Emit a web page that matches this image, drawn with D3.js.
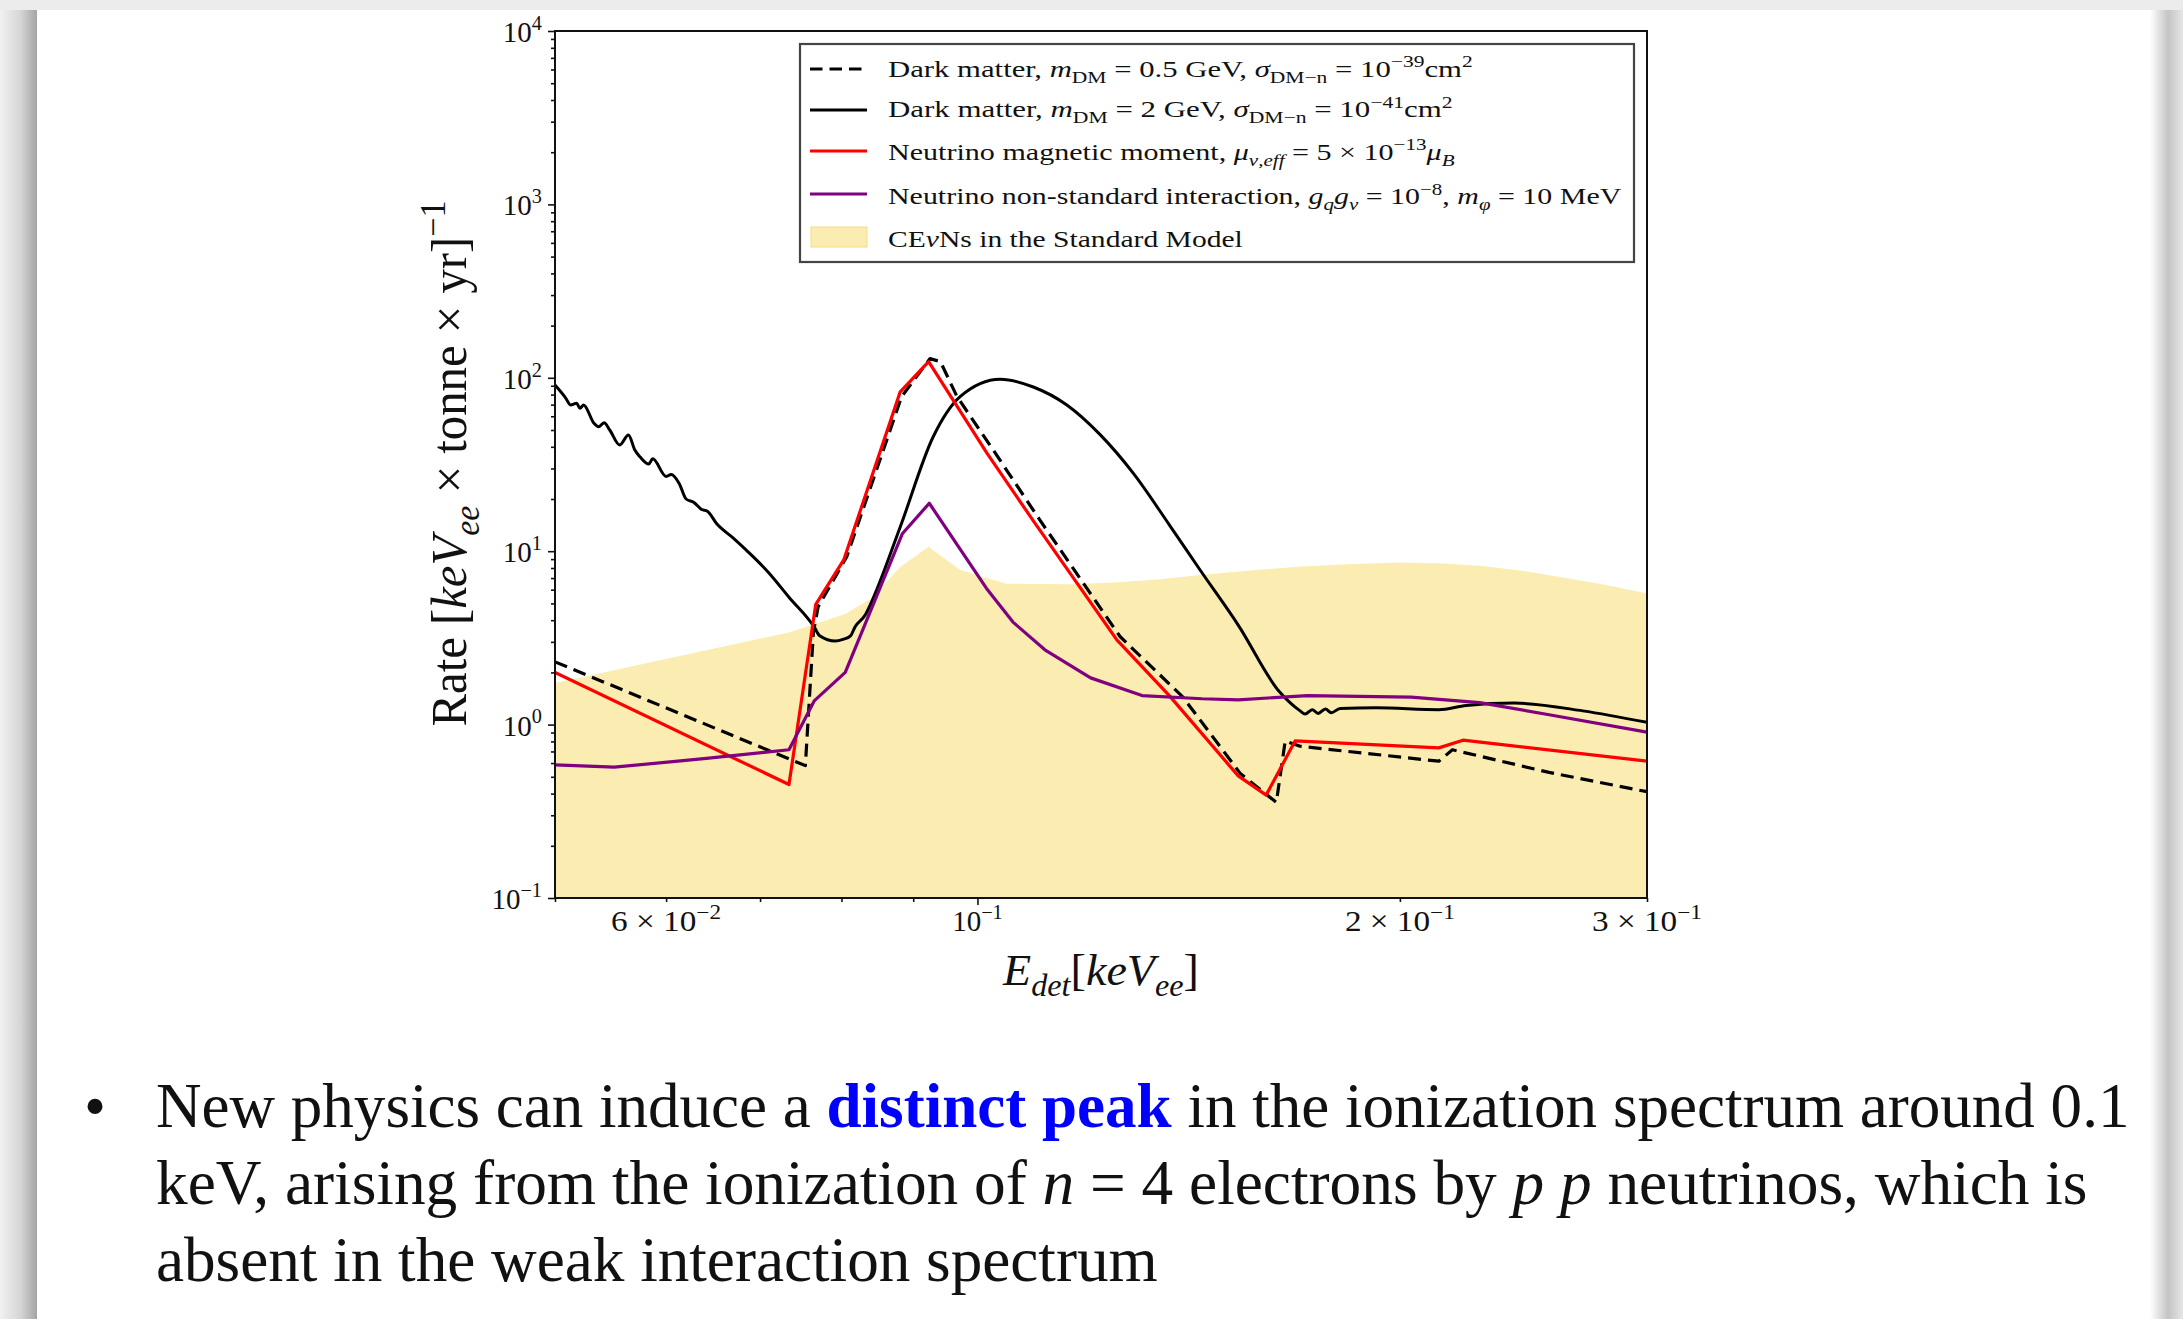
<!DOCTYPE html>
<html>
<head>
<meta charset="utf-8">
<script src="https://cdn.jsdelivr.net/npm/d3@7"></script>
<style>
  body { margin: 0; background: #fff; }
  svg { display: block; }
  text { font-family: "Liberation Serif", "DejaVu Serif", serif; white-space: pre; fill: #111; }
</style>
</head>
<body>
<svg id="chart" width="2183" height="1319"></svg>
<script>
// ---- spectra: detected energy [keV_ee] and rate [(keV_ee x tonne x yr)^-1] ----

// CEvNS in the Standard Model (filled band)
const smE    = [0.05, 0.0734, 0.0805, 0.0839, 0.0881, 0.0923, 0.0972, 0.1049, 0.1158, 0.1250, 0.1350, 0.1441, 0.1550, 0.1700, 0.1850, 0.2000, 0.2150, 0.2300, 0.2450, 0.2600, 0.2800, 0.3];
const smRate = [1.74, 3.40,   4.35,   5.30,   8.10,   10.6,   7.80,   6.50,   6.45,   6.60,   6.90,   7.30,   7.70,   8.15,   8.45,   8.60,   8.50,   8.20,   7.70,   7.10,   6.40,   5.70];

// Dark matter, m_DM = 0.5 GeV (dashed)
const dm05E    = [0.05, 0.0754, 0.0764, 0.0770, 0.0807, 0.0883, 0.0925, 0.0941, 0.0967, 0.1027, 0.1108, 0.1264, 0.1400, 0.1540, 0.1633, 0.1657, 0.1698, 0.2132, 0.2180, 0.2555, 0.3];
const dm05Rate = [2.30, 0.58,   3.41,   4.78,   9.3,    77.8,   129,    124,    78,     38,     15.1,   3.21,   1.45,   0.52,   0.356,  0.805,  0.75,   0.615,  0.716,  0.53,   0.41];

// Dark matter, m_DM = 2 GeV (solid black)
const dm2E    = [0.0500, 0.0509, 0.0513, 0.0518, 0.0521, 0.0524, 0.0533, 0.0537, 0.0542, 0.0547, 0.0556, 0.0564, 0.0570, 0.0575, 0.0583, 0.0587, 0.0600, 0.0605, 0.0613, 0.0620, 0.0628, 0.0636, 0.0642, 0.0652, 0.0669, 0.0686, 0.0710, 0.0734, 0.0765, 0.0772, 0.0792, 0.0802, 0.0812, 0.0818, 0.0832, 0.0839, 0.0881, 0.0930, 0.0972, 0.1038, 0.1096, 0.1158, 0.1223, 0.1292, 0.1370, 0.1441, 0.1534, 0.1642, 0.1698, 0.1712, 0.1732, 0.1749, 0.1770, 0.1787, 0.1813, 0.1924, 0.2132, 0.2230, 0.2413, 0.2700, 0.3];
const dm2Rate = [90.8,   76.2,   69.7,   71.3,   66.7,   69.7,   54.7,   52.2,   55.1,   50.0,   41.0,   46.8,   38.3,   34.9,   31.8,   34.1,   27.0,   27.7,   24.6,   20.0,   19.1,   17.4,   17.0,   14.4,   12.0,   9.95,   7.52,   5.43,   3.66,   3.25,   3.03,   3.10,   3.25,   3.66,   4.30,   4.94,   13.8,   45.7,   77.8,   98.0,   88.5,   69.7,   47.0,   28.0,   14.2,   7.79,   3.75,   1.54,   1.20,   1.15,   1.22,   1.16,   1.23,   1.17,   1.24,   1.25,   1.22,   1.29,   1.33,   1.20,   1.03];

// Neutrino magnetic moment (red)
const mmE    = [0.05, 0.0734, 0.0767, 0.0803, 0.0881, 0.0923, 0.1016, 0.1097, 0.1257, 0.1370, 0.1534, 0.1606, 0.1684, 0.2132, 0.2218, 0.3];
const mmRate = [2.00, 0.451,  4.94,   8.9,    83,     124,    36.7,   14.8,   3.08,   1.47,   0.506,  0.392,  0.805,  0.734,  0.813,  0.615];

// Neutrino non-standard interaction (purple)
const nsiE    = [0.05,  0.0551, 0.0641, 0.0734, 0.0765, 0.0805, 0.0884, 0.0924, 0.1015, 0.1060, 0.1117, 0.1204, 0.1310, 0.1446, 0.1534, 0.1718, 0.2037, 0.2280, 0.2555, 0.3];
const nsiRate = [0.586, 0.568,  0.638,  0.716,  1.37,   2.00,   12.6,   18.9,   6.1,    3.9,    2.7,    1.86,   1.47,   1.41,   1.39,   1.47,   1.44,   1.34,   1.14,   0.904];

// axis ticks
const yTickExps   = [-1, 0, 1, 2, 3, 4];
const xTickValues = [0.06, 0.1, 0.2, 0.3];
const xTickMant   = ["6", "", "2", "3"];
const xTickExps   = ["\u22122", "\u22121", "\u22121", "\u22121"];

// ---------------------------------------------------------------
const W = 2183, H = 1319;
const svg = d3.select("#chart");
const M = { left: 555, right: 1647, top: 31, bottom: 898 };

const x = d3.scaleLog().domain([0.05, 0.3]).range([M.left, M.right]);
const y = d3.scaleLog().domain([0.1, 1e4]).range([M.bottom, M.top]);

const zip = (a, b) => a.map((v, i) => [v, b[i]]);

// rich text: parts are [string, {i, b, sub, sup, fill}]
function rich(parent, px, py, parts, size, anchor) {
  const t = parent.append("text").attr("x", px).attr("y", py)
    .attr("font-size", size).attr("text-anchor", anchor || "start");
  let cur = 0;
  parts.forEach(p => {
    const [str, o] = Array.isArray(p) ? [p[0], p[1] || {}] : [p, {}];
    const ts = t.append("tspan").text(str);
    const off = o.sub ? size * 0.25 : o.sup ? -size * 0.42 : 0;
    if (off !== cur) { ts.attr("dy", off - cur); cur = off; }
    if (o.sub || o.sup) ts.attr("font-size", size * 0.7);
    if (o.i) ts.attr("font-style", "italic");
    if (o.b) ts.attr("font-weight", "bold");
    if (o.fill) ts.style("fill", o.fill);
  });
  return t;
}
// stretch a text horizontally about its anchor so it spans the given width
function fit(t, width) {
  const w = t.node().getBBox().width;
  const k = width / w;
  const ax = +t.attr("x");
  t.attr("transform", `translate(${ax},0) scale(${k},1) translate(${-ax},0)`);
}

// ---- page frame (slide with drop shadow) ----
const defs = svg.append("defs");
const gL = defs.append("linearGradient").attr("id", "shL").attr("x1", 0).attr("x2", 1).attr("y1", 0).attr("y2", 0);
gL.append("stop").attr("offset", 0).attr("stop-color", "#f1f1f1");
gL.append("stop").attr("offset", 0.55).attr("stop-color", "#d6d6d6");
gL.append("stop").attr("offset", 1).attr("stop-color", "#a4a4a4");
const gR = defs.append("linearGradient").attr("id", "shR").attr("x1", 0).attr("x2", 1).attr("y1", 0).attr("y2", 0);
gR.append("stop").attr("offset", 0).attr("stop-color", "#ffffff");
gR.append("stop").attr("offset", 0.55).attr("stop-color", "#c4c4c4");
gR.append("stop").attr("offset", 1).attr("stop-color", "#e6e6e6");

svg.append("rect").attr("width", W).attr("height", H).attr("fill", "#fff");
svg.append("rect").attr("x", 0).attr("y", 0).attr("width", 37).attr("height", H).attr("fill", "url(#shL)");
svg.append("rect").attr("x", 2150).attr("y", 0).attr("width", 33).attr("height", H).attr("fill", "url(#shR)");
svg.append("rect").attr("x", 0).attr("y", 0).attr("width", W).attr("height", 10).attr("fill", "#ececec");

// ---- plot ----
defs.append("clipPath").attr("id", "plotClip").append("rect")
  .attr("x", M.left).attr("y", M.top).attr("width", M.right - M.left).attr("height", M.bottom - M.top);

const plot = svg.append("g").attr("clip-path", "url(#plotClip)");

const area = d3.area().x(d => x(d[0])).y0(M.bottom).y1(d => y(d[1]));
const line = d3.line().x(d => x(d[0])).y(d => y(d[1]));
const smooth = d3.line().x(d => x(d[0])).y(d => y(d[1])).curve(d3.curveMonotoneX);

const COL = { band: "#fbedb2", bandEdge: "#f3dc86", red: "#ff0000", purple: "#800080", black: "#000" };

plot.append("path").datum(zip(smE, smRate)).attr("d", area).attr("fill", COL.band);

plot.append("path").datum(zip(dm05E, dm05Rate)).attr("d", line)
  .attr("fill", "none").attr("stroke", COL.black).attr("stroke-width", 3.2)
  .attr("stroke-dasharray", "13,7").attr("stroke-linejoin", "round");
plot.append("path").datum(zip(dm2E, dm2Rate)).attr("d", smooth)
  .attr("fill", "none").attr("stroke", COL.black).attr("stroke-width", 3).attr("stroke-linejoin", "round");
plot.append("path").datum(zip(mmE, mmRate)).attr("d", line)
  .attr("fill", "none").attr("stroke", COL.red).attr("stroke-width", 3.2).attr("stroke-linejoin", "round");
plot.append("path").datum(zip(nsiE, nsiRate)).attr("d", line)
  .attr("fill", "none").attr("stroke", COL.purple).attr("stroke-width", 3.2).attr("stroke-linejoin", "round");

// ---- axes ----
const yMinor = [];
for (let e = -1; e < 4; e++) for (let m = 2; m <= 9; m++) yMinor.push(m * Math.pow(10, e));
const yMajor = yTickExps.map(e => Math.pow(10, e));
const xMinor = [0.05, 0.06, 0.07, 0.08, 0.09, 0.2, 0.3];

const styleAxis = g => {
  g.select(".domain").remove();
  g.selectAll("line").attr("stroke", "#111").attr("stroke-width", 1.6);
};
svg.append("g").attr("transform", `translate(${M.left},0)`)
  .call(d3.axisLeft(y).tickValues(yMinor).tickSize(4).tickFormat("")).call(styleAxis);
svg.append("g").attr("transform", `translate(${M.left},0)`)
  .call(d3.axisLeft(y).tickValues(yMajor).tickSize(7).tickFormat("")).call(styleAxis);
svg.append("g").attr("transform", `translate(0,${M.bottom})`)
  .call(d3.axisBottom(x).tickValues(xMinor).tickSize(4).tickFormat("")).call(styleAxis);
svg.append("g").attr("transform", `translate(0,${M.bottom})`)
  .call(d3.axisBottom(x).tickValues([0.1]).tickSize(7).tickFormat("")).call(styleAxis);

// frame
svg.append("rect").attr("x", M.left).attr("y", M.top)
  .attr("width", M.right - M.left).attr("height", M.bottom - M.top)
  .attr("fill", "none").attr("stroke", "#111").attr("stroke-width", 2);

// y tick labels
const labels = svg.append("g");
yTickExps.forEach(e => {
  rich(labels, M.left - 13, y(Math.pow(10, e)) + 11,
    ["10", [e < 0 ? "\u2212" + (-e) : String(e), { sup: true }]], 29, "end");
});
// x tick labels
xTickValues.forEach((v, i) => {
  const parts = xTickMant[i] ? [xTickMant[i] + " \u00d7 10"] : ["10"];
  parts.push([xTickExps[i], { sup: true }]);
  const t = rich(labels, x(v), M.bottom + 33, parts, 29, "middle");
  if (xTickMant[i]) fit(t, 110);
});

// axis titles
const yTitleG = svg.append("g").attr("transform", `translate(466,${(M.top + M.bottom) / 2 - 1}) rotate(-90)`);
const yTitle = rich(yTitleG, 0, 0, [
  "Rate [", ["keV", { i: true }], ["ee", { sub: true, i: true }], " \u00d7 tonne \u00d7 yr]", ["\u22121", { sup: true }]
], 50, "middle");
fit(yTitle, 526);

const xTitle = rich(svg, (M.left + M.right) / 2, 985, [
  ["E", { i: true }], ["det", { sub: true, i: true }], "[", ["keV", { i: true }], ["ee", { sub: true, i: true }], "]"
], 45, "middle");
fit(xTitle, 197);

// ---- legend ----
const leg = svg.append("g");
leg.append("rect").attr("x", 800).attr("y", 44).attr("width", 834).attr("height", 218)
  .attr("fill", "#fff").attr("stroke", "#444").attr("stroke-width", 2.2);

const legendRows = [
  { kind: "line", color: COL.black, dash: "13,7", cy: 69, base: 77, right: 1473,
    parts: ["Dark matter, ", ["m", { i: true }], ["DM", { sub: true }], " = 0.5 GeV, ", ["\u03c3", { i: true }], ["DM\u2212n", { sub: true }], " = 10", ["\u221239", { sup: true }], "cm", ["2", { sup: true }]] },
  { kind: "line", color: COL.black, dash: null, cy: 110, base: 117.5, right: 1453,
    parts: ["Dark matter, ", ["m", { i: true }], ["DM", { sub: true }], " = 2 GeV, ", ["\u03c3", { i: true }], ["DM\u2212n", { sub: true }], " = 10", ["\u221241", { sup: true }], "cm", ["2", { sup: true }]] },
  { kind: "line", color: COL.red, dash: null, cy: 151, base: 160, right: 1455,
    parts: ["Neutrino magnetic moment, ", ["\u03bc", { i: true }], ["\u03bd,eff", { sub: true, i: true }], " = 5 \u00d7 10", ["\u221213", { sup: true }], ["\u03bc", { i: true }], ["B", { sub: true, i: true }]] },
  { kind: "line", color: COL.purple, dash: null, cy: 194, base: 204.5, right: 1622,
    parts: ["Neutrino non-standard interaction, ", ["g", { i: true }], ["q", { sub: true, i: true }], ["g", { i: true }], ["\u03bd", { sub: true, i: true }], " = 10", ["\u22128", { sup: true }], ", ", ["m", { i: true }], ["\u03c6", { sub: true, i: true }], " = 10 MeV"] },
  { kind: "patch", cy: 237, base: 247, right: 1243,
    parts: ["CE", ["\u03bd", { i: true }], "Ns in the Standard Model"] }
];
legendRows.forEach(r => {
  if (r.kind === "line") {
    const l = leg.append("line").attr("x1", 810).attr("x2", 867).attr("y1", r.cy).attr("y2", r.cy)
      .attr("stroke", r.color).attr("stroke-width", 3.2);
    if (r.dash) l.attr("stroke-dasharray", "12.5,7");
  } else {
    leg.append("rect").attr("x", 811).attr("y", r.cy - 10).attr("width", 56).attr("height", 20)
      .attr("fill", COL.band).attr("stroke", COL.bandEdge).attr("stroke-width", 1);
  }
  const t = rich(leg, 888, r.base, r.parts, 23, "start");
  fit(t, r.right - 888);
});

// ---- bullet text below the figure ----
const para = svg.append("g");
para.append("text").attr("x", 84).attr("y", 1127).attr("font-size", 63).text("\u2022");
const pLines = [
  { y: 1127, right: 2130, parts: ["New physics can induce a ", ["distinct peak", { b: true, fill: "#0000ff" }], " in the ionization spectrum around 0.1"] },
  { y: 1204, right: 2088, parts: ["keV, arising from the ionization of ", ["n", { i: true }], " = 4 electrons by ", ["p p", { i: true }], " neutrinos, which is"] },
  { y: 1281, right: 1158, parts: ["absent in the weak interaction spectrum"] }
];
pLines.forEach(l => {
  const t = rich(para, 156, l.y, l.parts, 63, "start");
  fit(t, l.right - 156);
});
</script>
</body>
</html>
